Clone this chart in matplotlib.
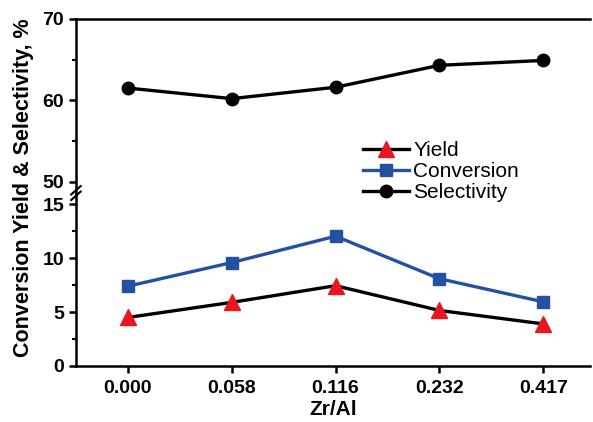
import matplotlib.pyplot as plt
from matplotlib.ticker import MultipleLocator

zr_al = ['0.000', '0.058', '0.116', '0.232', '0.417']
yield_pct = [4.5, 5.9, 7.45, 5.15, 3.9]
conversion = [7.4, 9.6, 12.05, 8.1, 5.95]
selectivity = [61.5, 60.2, 61.6, 64.3, 64.9]

plt.rcParams['font.family'] = ['Liberation Sans', 'DejaVu Sans']
plt.rcParams['font.weight'] = 'bold'

fig = plt.figure(figsize=(5.93, 4.22), dpi=100)
ax_top = fig.add_axes([0.128, 0.541, 0.867, 0.414])
ax_bot = fig.add_axes([0.128, 0.133, 0.867, 0.408])

x = range(len(zr_al))
red = '#e8161e'
blue = '#2251a3'

l_sel, = ax_top.plot(x, selectivity, color='black', lw=2.4, marker='o', ms=9,
                     label='Selectivity')
l_conv, = ax_bot.plot(x, conversion, color=blue, lw=2.4, marker='s', ms=8,
                      label='Conversion')
l_yld, = ax_bot.plot(x, yield_pct, color='black', lw=2.4, marker='^', ms=11,
                     mfc=red, mec=red, label='Yield')

ax_top.set_ylim(48.5, 70)
ax_bot.set_ylim(0, 16)
for ax in (ax_top, ax_bot):
    ax.set_xlim(-0.5, 4.45)
    ax.spines['right'].set_visible(False)
    for s in ax.spines.values():
        s.set_linewidth(1.8)
    ax.tick_params(axis='both', which='major', direction='out', length=5, width=1.8,
                   labelsize=14)
    ax.tick_params(axis='y', which='minor', direction='out', length=3, width=1.5)

ax_top.spines['bottom'].set_visible(False)
ax_top.set_xticks([])
ax_top.yaxis.set_minor_locator(MultipleLocator(5))
ax_top.set_yticks([50, 60, 70])

ax_bot.spines['top'].set_visible(False)
ax_bot.set_yticks([0, 5, 10, 15])
ax_bot.yaxis.set_minor_locator(MultipleLocator(2.5))
ax_bot.set_xticks(list(x))
ax_bot.set_xticklabels(zr_al)
ax_bot.tick_params(axis='x', pad=5)
ax_bot.set_xlabel('Zr/Al', fontsize=15, fontweight='bold', labelpad=2)

# break marks on the y axis
for yy in (0.536, 0.549):
    fig.add_artist(plt.Line2D([0.12, 0.136], [yy - 0.01, yy + 0.01],
                              color='black', lw=1.5, transform=fig.transFigure))

fig.text(0.04, 0.555, 'Conversion Yield & Selectivity, %', rotation=90,
         ha='center', va='center', fontsize=15.5, fontweight='bold')

fig.legend(handles=[l_yld, l_conv, l_sel], loc='upper left',
           bbox_to_anchor=(0.595, 0.69), frameon=False,
           prop={'weight': 'normal', 'size': 15}, handlelength=2.2,
           handletextpad=0.2, labelspacing=0.1, borderpad=0)

fig.savefig('out.png', dpi=100)
